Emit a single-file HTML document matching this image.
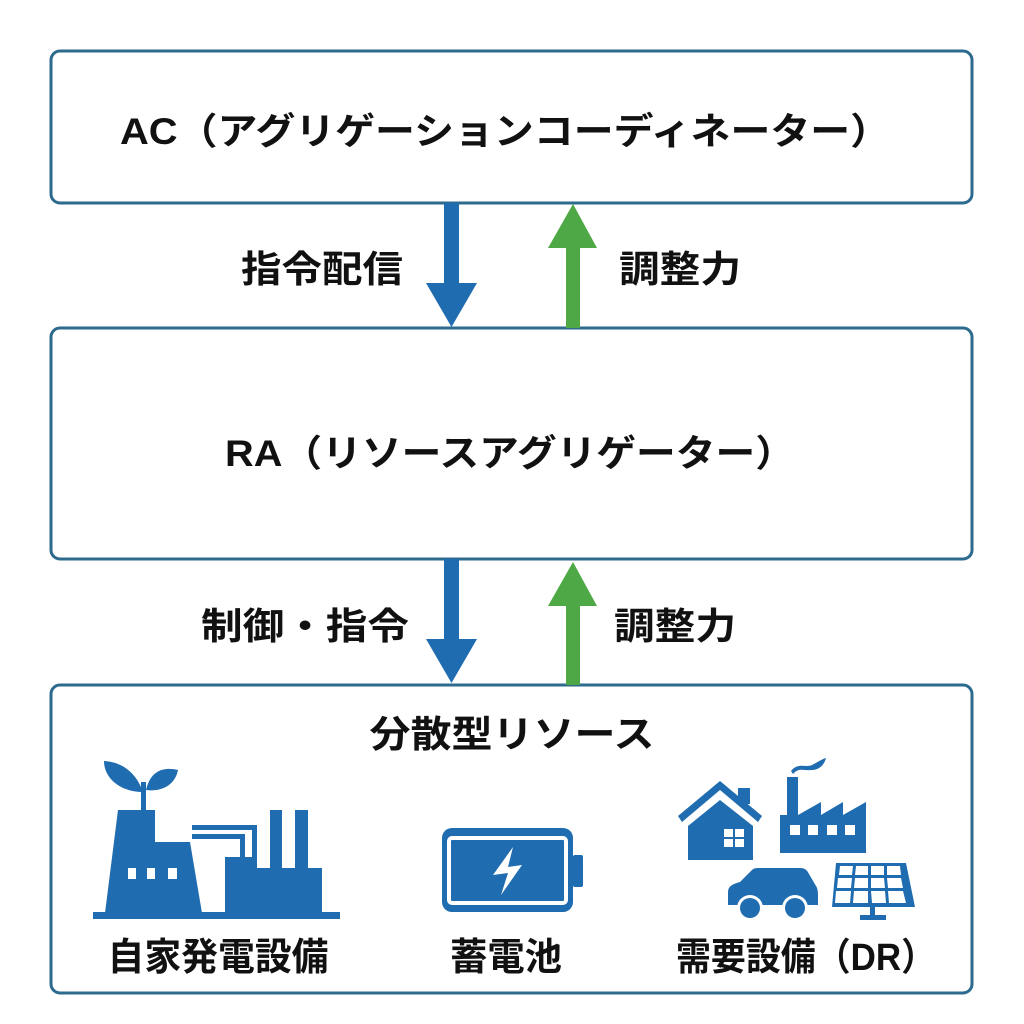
<!DOCTYPE html>
<html><head><meta charset="utf-8">
<style>
html,body{margin:0;padding:0;background:#fff;}
svg{display:block;}
text{font-family:"Liberation Sans","Noto Sans CJK JP",sans-serif;font-weight:700;fill:#111;}
</style></head>
<body>
<svg width="1024" height="1024" viewBox="0 0 1024 1024" xmlns="http://www.w3.org/2000/svg">
<rect width="1024" height="1024" fill="#fff"/>
<g fill="#fff" stroke="#2c6a8e" stroke-width="3">
<rect x="51" y="51" width="921" height="152" rx="9"/>
<rect x="51" y="328" width="921" height="231" rx="9"/>
<rect x="51" y="685" width="921" height="308" rx="9"/>
</g>

<!-- arrows -->
<g fill="#1f6cb0">
<rect x="444" y="203" width="15" height="82"/>
<polygon points="426,283 477,283 451.5,327"/>
<rect x="444" y="559" width="15" height="82"/>
<polygon points="426,639 477,639 451.5,683"/>
</g>
<g fill="#4ea845">
<rect x="566" y="246" width="14" height="82"/>
<polygon points="548,248 597,248 573,204"/>
<rect x="566" y="604" width="14" height="81"/>
<polygon points="548,606 597,606 573,562"/>
</g>

<text x="505" y="144" font-size="37" text-anchor="middle" textLength="770" lengthAdjust="spacingAndGlyphs">AC（アグリゲーションコーディネーター）</text>
<text x="510" y="466" font-size="37" text-anchor="middle" textLength="570" lengthAdjust="spacingAndGlyphs">RA（リソースアグリゲーター）</text>
<text x="322" y="282" font-size="37" text-anchor="middle" textLength="162" lengthAdjust="spacingAndGlyphs">指令配信</text>
<text x="680" y="282" font-size="37" text-anchor="middle" textLength="122" lengthAdjust="spacingAndGlyphs">調整力</text>
<text x="305" y="639" font-size="37" text-anchor="middle" textLength="208" lengthAdjust="spacingAndGlyphs">制御・指令</text>
<text x="675" y="639" font-size="37" text-anchor="middle" textLength="122" lengthAdjust="spacingAndGlyphs">調整力</text>
<text x="512" y="747" font-size="37" text-anchor="middle" textLength="285" lengthAdjust="spacingAndGlyphs">分散型リソース</text>
<text x="218" y="970" font-size="38" text-anchor="middle" textLength="221" lengthAdjust="spacingAndGlyphs">自家発電設備</text>
<text x="506" y="970" font-size="38" text-anchor="middle" textLength="112" lengthAdjust="spacingAndGlyphs">蓄電池</text>
<text x="806" y="970" font-size="38" text-anchor="middle" textLength="260" lengthAdjust="spacingAndGlyphs">需要設備（DR）</text>

<!-- power plant icon -->
<g fill="#1f6cb0">
<rect x="93" y="912" width="247" height="7"/>
<polygon points="118,810 155,810 155,842 190,842 202,913 105,913"/>
<rect x="141" y="782" width="5" height="30"/>
<path d="M143,792 C135,770 120,762 104,761 C104,778 120,792 143,792 Z"/>
<path d="M146,790 C150,772 162,766 178,770 C175,785 162,792 146,790 Z"/>
<polygon points="225,857 257,857 257,868 270,868 270,810 282,810 282,868 295,868 295,810 308,810 308,868 322,868 322,913 225,913"/>
<rect x="192" y="825" width="65" height="5"/>
<rect x="192" y="834" width="53" height="5"/>
<rect x="252" y="825" width="5" height="33"/>
<rect x="240" y="834" width="5" height="24"/>
</g>
<g fill="#fff">
<rect x="128" y="868" width="8" height="11"/>
<rect x="147" y="868" width="8" height="11"/>
<rect x="168" y="868" width="9" height="11"/>
</g>

<!-- battery -->
<rect x="442" y="828" width="131" height="84" rx="10" fill="#1f6cb0"/>
<rect x="573" y="855" width="10" height="32" rx="2" fill="#1f6cb0"/>
<rect x="449" y="838" width="117" height="65" rx="3" fill="none" stroke="#fff" stroke-width="4"/>
<polygon points="513,847 493,875 508,873 501,895 522,865 508,867 513,847" fill="#fff"/>

<!-- house -->
<g fill="#1f6cb0">
<polygon points="720,781 678,816 682,822 720,790 758,822 762,816"/>
<rect x="738" y="788" width="12" height="16"/>
<polygon points="720,800 688,826 688,860 753,860 753,826"/>
</g>
<g fill="#fff">
<rect x="724" y="829" width="9" height="8"/><rect x="735" y="829" width="9" height="8"/>
<rect x="724" y="839" width="9" height="8"/><rect x="735" y="839" width="9" height="8"/>
</g>
<!-- factory -->
<g fill="#1f6cb0">
<polygon points="780,853 780,815 787,815 787,777 798,777 798,815 821,802 821,815 843,802 843,815 866,802 866,853"/>
<path d="M791,771 C798,762 806,768 812,765 C818,762 822,759 826,758 C824,766 818,770 812,770 C804,771 799,767 793,774 Z"/>
</g>
<g fill="#fff">
<rect x="790" y="825" width="10" height="10"/><rect x="808" y="825" width="10" height="10"/>
<rect x="827" y="825" width="10" height="10"/><rect x="845" y="825" width="10" height="10"/>
</g>
<!-- car -->
<g>
<path d="M728,905 L728,892 C728,886 733,884 740,882 L752,870 C754,868 756,868 760,868 L800,868 C805,868 807,870 809,874 L816,886 C818,889 818,893 818,897 L818,905 Z" fill="#1f6cb0"/>
<circle cx="750" cy="908" r="13" fill="#fff"/>
<circle cx="750" cy="908" r="10" fill="#1f6cb0"/>
<circle cx="795" cy="908" r="13" fill="#fff"/>
<circle cx="795" cy="908" r="10" fill="#1f6cb0"/>
</g>
<!-- solar -->
<g>
<polygon points="836,863 906,863 915,907 832,907" fill="#1f6cb0"/>
<g fill="#fff">
<polygon points="840,866 853,866 852,875 839,875"/><polygon points="856,866 868,866 868,875 855,875"/><polygon points="871,866 884,866 884,875 871,875"/><polygon points="887,866 900,866 901,875 887,875"/>
<polygon points="838,878 852,878 851,888 837,888"/><polygon points="855,878 868,878 868,888 854,888"/><polygon points="871,878 884,878 885,888 871,888"/><polygon points="887,878 901,878 903,888 888,888"/>
<polygon points="836,891 851,891 850,903 835,903"/><polygon points="854,891 868,891 868,903 853,903"/><polygon points="871,891 885,891 886,903 872,903"/><polygon points="888,891 903,891 906,903 889,903"/>
</g>
<rect x="870" y="907" width="5" height="9" fill="#1f6cb0"/>
<rect x="860" y="915" width="26" height="5" fill="#1f6cb0"/>
</g>
</svg>
</body></html>
